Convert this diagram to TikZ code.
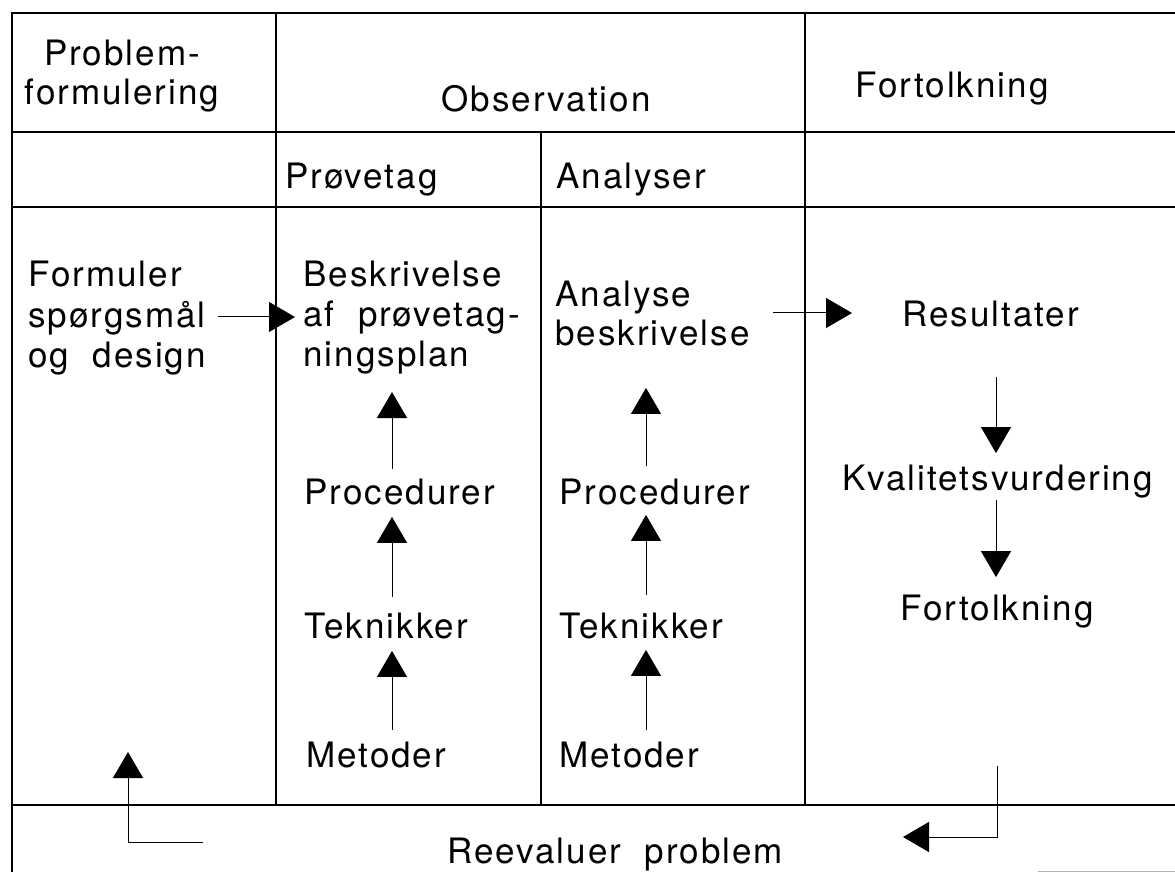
\documentclass[tikz,border=0pt]{standalone}
\usepackage{fontspec}
\setmainfont{TeX Gyre Heros}[LetterSpace=5.7]
\usetikzlibrary{arrows.meta}
\begin{document}
\begin{tikzpicture}[x=0.5pt,y=-0.5pt,
  txt/.style={inner sep=0pt, anchor=base west, align=left, font=\fontsize{17.5}{20}\selectfont},
  frame/.style={line width=1.3pt},
  arr/.style={line width=0.5pt, -{Triangle[width=15pt,length=13pt]}},
]
\useasboundingbox (0,0) rectangle (1175,872);

% frame
\draw[frame] (1175,13) -- (12,13) -- (12,872);
\draw[frame] (12,132) -- (1175,132);
\draw[frame] (12,207) -- (1175,207);
\draw[frame] (12,805) -- (1175,805);
\draw[frame] (276,13) -- (276,805);
\draw[frame] (805,13) -- (805,805);
\draw[frame] (541,132) -- (541,805);
\draw[line width=0.4pt, gray!60] (1038,871) -- (1175,871);

% headers (multi-line nodes: base = baseline of last line)
\node[txt, anchor=base, align=center] (hprob) at (122,105) {Problem-\\formulering};
\node[txt, anchor=base] (hobs) at (546,112) {Observation};
\node[txt] (hfort) at (855,98) {Fortolkning};
\node[txt] (hpro) at (285,189) {Prøvetag};
\node[txt] (hana) at (556,189) {Analyser};

% column 1
\node[txt] (form) at (28,367) {Formuler\\spørgsmål\\og\ \ design};

% column 2
\node[txt] (besk) at (303,366) {Beskrivelse\\af\ \ prøvetag-\\ningsplan};
\node[txt] (proc1) at (304,504) {Procedurer};
\node[txt] (tek1) at (304,638) {Teknikker};
\node[txt] (met1) at (306,767) {Metoder};

% column 3
\node[txt] (ana) at (555,346) {Analyse\\beskrivelse};
\node[txt] (proc2) at (559,504) {Procedurer};
\node[txt] (tek2) at (559,638) {Teknikker};
\node[txt] (met2) at (559,767) {Metoder};

% column 4
\node[txt] (res) at (902,327) {Resultater};
\node[txt] (kval) at (842,490) {Kvalitetsvurdering};
\node[txt] (fort) at (900,620) {Fortolkning};

% bottom
\node[txt] (reev) at (447,863) {Reevaluer\ \ problem};

% arrow columns / rows
\coordinate (cA) at (392,0);
\coordinate (cB) at (646,0);
\coordinate (cR) at (996,0);
\coordinate (r1) at (0,317);
\coordinate (r2) at (0,313);

\draw[arr, shorten <=6pt, shorten >=4pt] (form.east |- r1) -- (besk.west |- r1);
\draw[arr, shorten <=11.5pt, shorten >=25pt] (ana.east |- r2) -- (res.west |- r2);

\draw[arr, shorten <=5.5pt, shorten >=6pt] (met1.north -| cA) -- (tek1.south -| cA);
\draw[arr, shorten <=7.5pt, shorten >=6pt] (tek1.north -| cA) -- (proc1.south -| cA);
\draw[arr, shorten <=4.5pt, shorten >=9pt] (proc1.north -| cA) -- (besk.south -| cA);

\draw[arr, shorten <=5.5pt, shorten >=5.5pt] (met2.north -| cB) -- (tek2.south -| cB);
\draw[arr, shorten <=8.5pt, shorten >=5pt] (tek2.north -| cB) -- (proc2.south -| cB);
\draw[arr, shorten <=6pt, shorten >=20.5pt] (proc2.north -| cB) -- (ana.south -| cB);

\draw[arr, shorten <=24.5pt, shorten >=5.5pt] (res.south -| cR) -- (kval.north -| cR);
\draw[arr, shorten <=1pt, shorten >=8.5pt] (kval.south -| cR) -- (fort.north -| cR);

% feedback arrows
\coordinate (fbRs) at (997,766);
\coordinate (fbRe) at (903,837);
\coordinate (fbLs) at (203,842);
\coordinate (fbLe) at (128,752);
\draw[arr] (fbRs) |- (fbRe);
\draw[arr] (fbLs) -| (fbLe);
\end{tikzpicture}
\end{document}
